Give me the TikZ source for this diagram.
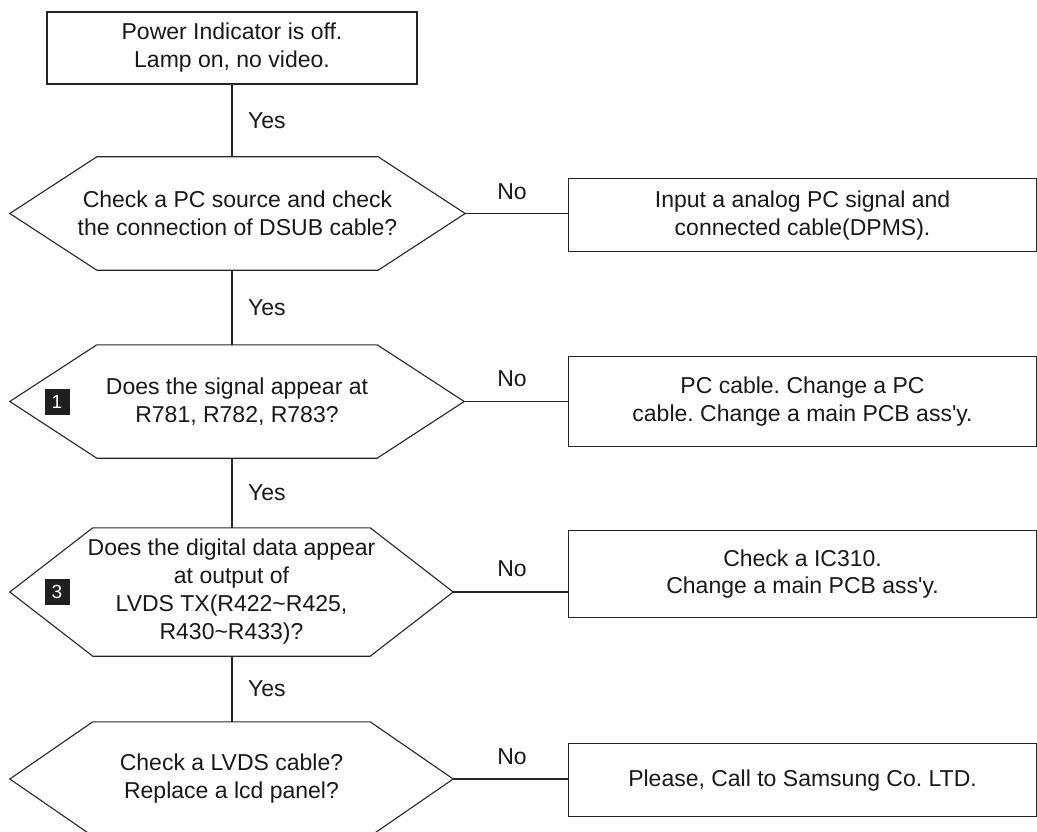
\documentclass[tikz,border=0pt]{standalone}
\usepackage{fontspec}
\setmainfont{Liberation Sans}
\usetikzlibrary{calc}
\frenchspacing
\begin{document}
\begin{tikzpicture}[x=1pt,y=-1pt,
  ln/.style={draw=black!85,line width=1.1pt},
  txt/.style={font=\fontsize{23}{28}\selectfont,align=center,text=black!90,inner sep=0pt},
  rbox/.style={ln,txt,minimum width=468pt,anchor=north west},
  hexn/.style={txt,minimum height=#1},
  badge/.style={fill=black!88,text=white,font=\fontsize{19}{19}\selectfont,minimum width=25pt,minimum height=26pt,inner sep=0pt},
  lbl/.style={font=\fontsize{23}{28}\selectfont,text=black!90,inner sep=0pt}]
\useasboundingbox (0,0) rectangle (1037,832);
\fill[white] (0,0) rectangle (1037,832);

% top box
\node[ln,txt,minimum width=370pt,minimum height=72pt] (top) at (232,48) {Power Indicator is off.\\Lamp on, no video.};

% hexagon nodes
\node[hexn=113pt,minimum width=455pt] (h1) at (237.5,213.5) {Check a PC source and check\\the connection of DSUB cable?};
\node[hexn=113pt,minimum width=454pt] (h2) at (237,401.5) {Does the signal appear at\\R781, R782, R783?};
\node[hexn=128pt,minimum width=443pt] (h3) at (231.5,592) {Does the digital data appear\\at output of\\LVDS TX(R422\textasciitilde R425,\\R430\textasciitilde R433)?};
\node[hexn=114pt,minimum width=443pt] (h4) at (231.5,779) {Check a LVDS cable?\\Replace a lcd panel?};

\foreach \h/\d in {h1/87,h2/87,h3/83,h4/83}{
  \draw[ln,line join=miter] (\h.west) -- ([xshift=\d pt]\h.north west) -- ([xshift=-\d pt]\h.north east)
    -- (\h.east) -- ([xshift=-\d pt]\h.south east) -- ([xshift=\d pt]\h.south west) -- cycle;
}

% badges
\node[badge] (b1) at (57,402) {1};
\node[badge] (b3) at (57,592) {3};

% right boxes
\node[rbox,minimum height=73pt] (r1) at (568,178) {Input a analog PC signal and\\connected cable(DPMS).};
\node[rbox,minimum height=90pt] (r2) at (568,356) {PC cable. Change a PC\\cable. Change a main PCB ass\textquotesingle y.};
\node[rbox,minimum height=87pt] (r3) at (568,530) {Check a IC310.\\Change a main PCB ass\textquotesingle y.};
\node[rbox,minimum height=73pt] (r4) at (568,743) {Please, Call to Samsung Co. LTD.};

% vertical connectors
\draw[ln] (top.south) -- (top.south |- h1.north);
\draw[ln] (top.south |- h1.south) -- (top.south |- h2.north);
\draw[ln] (top.south |- h2.south) -- (top.south |- h3.north);
\draw[ln] (top.south |- h3.south) -- (top.south |- h4.north);

% horizontal connectors
\draw[ln] (h1.east) -- (r1.west |- h1.east);
\draw[ln] (h2.east) -- (r2.west |- h2.east);
\draw[ln] (h3.east) -- (r3.west |- h3.east);
\draw[ln] (h4.east) -- (r4.west |- h4.east);

% labels
\node[lbl,anchor=west] (y1) at (248,120.5) {Yes};
\node[lbl,anchor=west] (y2) at (248,307.5) {Yes};
\node[lbl,anchor=west] (y3) at (248,493) {Yes};
\node[lbl,anchor=west] (y4) at (248,689) {Yes};
\node[lbl] (n1) at (512,192) {No};
\node[lbl] (n2) at (512,379) {No};
\node[lbl] (n3) at (512,569) {No};
\node[lbl] (n4) at (512,757) {No};
\end{tikzpicture}
\end{document}
